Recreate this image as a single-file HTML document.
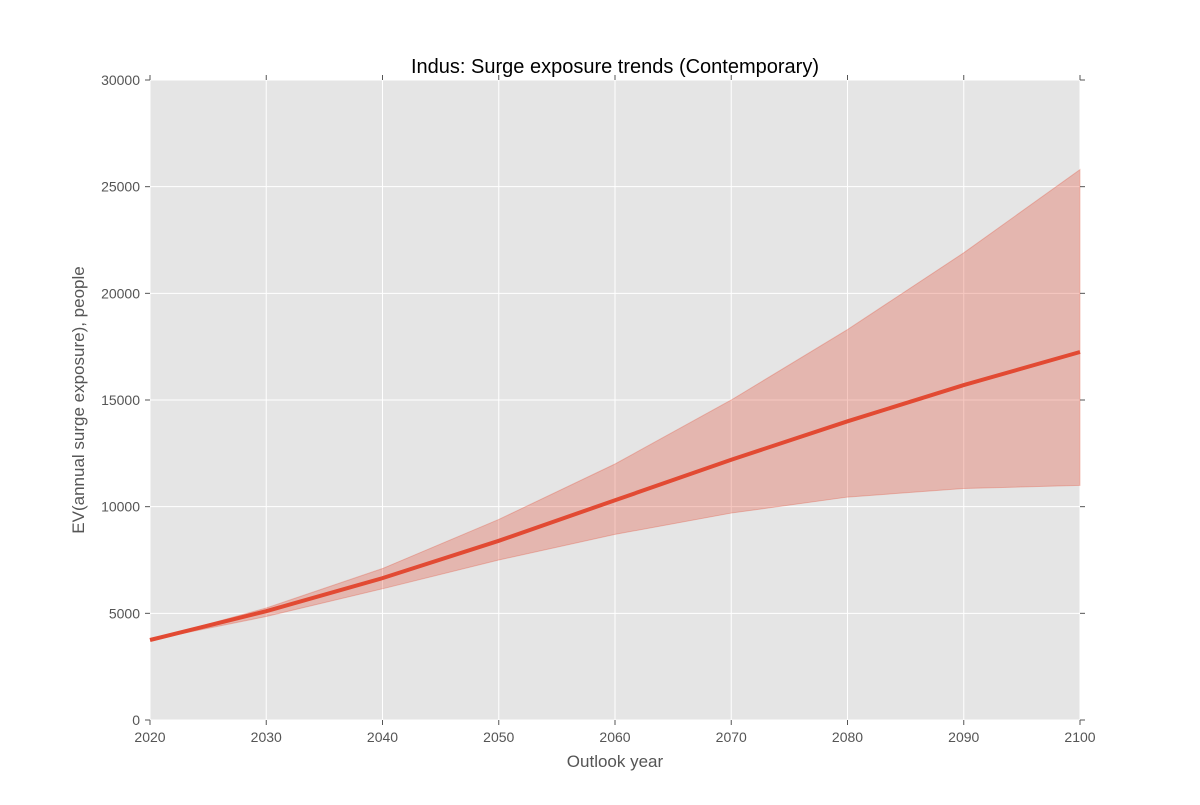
<!DOCTYPE html>
<html><head><meta charset="utf-8"><style>
body{margin:0;background:#fff;font-family:"Liberation Sans","DejaVu Sans",sans-serif}
svg text{font-family:"Liberation Sans","DejaVu Sans",sans-serif}
</style></head><body>
<svg id="chart" width="1200" height="800" xmlns="http://www.w3.org/2000/svg"></svg>
<script>
const years=[2020,2030,2040,2050,2060,2070,2080,2090,2100];
const median=[3750,5100,6650,8400,10300,12200,14000,15700,17250];
const upper=[3750,5250,7100,9400,12000,15000,18300,21900,25800];
const lower=[3750,4850,6150,7500,8700,9700,10450,10850,11000];
const xTicks=[2020,2030,2040,2050,2060,2070,2080,2090,2100];
const yTicks=[0,5000,10000,15000,20000,25000,30000];
const L=150,R=1080,T=80,B=720;
const sx=v=>L+(v-2020)/80*(R-L);
const sy=v=>B-v/30000*(B-T);
const svg=document.getElementById('chart');
const NS='http://www.w3.org/2000/svg';
function mk(tag,attrs,parent){const e=document.createElementNS(NS,tag);for(const k in attrs)e.setAttribute(k,attrs[k]);(parent||svg).appendChild(e);return e;}
const bg=mk('rect',{x:L,y:T,width:R-L,height:B-T,fill:'#e5e5e5'});


xTicks.forEach(t=>{const g=mk('line',{x1:sx(t),x2:sx(t),y1:T,y2:B,stroke:'#fff','stroke-width':1});

});
yTicks.forEach(t=>{const g=mk('line',{x1:L,x2:R,y1:sy(t),y2:sy(t),stroke:'#fff','stroke-width':1});

});
let d='M'+years.map((y,i)=>sx(y)+','+sy(upper[i])).join('L');
for(let i=years.length-1;i>=0;i--)d+='L'+sx(years[i])+','+sy(lower[i]);
const band=mk('path',{d:d+'Z',fill:'#e24a33','fill-opacity':0.3,stroke:'#e24a33','stroke-opacity':0.3});


const line=mk('polyline',{points:years.map((y,i)=>sx(y)+','+sy(median[i])).join(' '),fill:'none',stroke:'#e24a33','stroke-width':4});


xTicks.forEach(t=>{const x=sx(t);
mk('line',{x1:x,x2:x,y1:B,y2:B+5,stroke:'#555'});mk('line',{x1:x,x2:x,y1:T,y2:T-5,stroke:'#555'});
const tx=mk('text',{x:x,y:B+22,'text-anchor':'middle','font-size':14,fill:'#555'});tx.textContent=t;

});
yTicks.forEach(t=>{const y=sy(t);
mk('line',{x1:L,x2:L-5,y1:y,y2:y,stroke:'#555'});mk('line',{x1:R,x2:R+5,y1:y,y2:y,stroke:'#555'});
const tx=mk('text',{x:L-10,y:y+5,'text-anchor':'end','font-size':14,fill:'#555'});tx.textContent=t;

});
const title=mk('text',{x:615,y:73,'text-anchor':'middle','font-size':20,fill:'#000'});title.textContent='Indus: Surge exposure trends (Contemporary)';


const xl=mk('text',{x:615,y:767,'text-anchor':'middle','font-size':17,fill:'#555'});xl.textContent='Outlook year';


const yl=mk('text',{x:84,y:400,'text-anchor':'middle','font-size':17,fill:'#555',transform:'rotate(-90 84 400)'});yl.textContent='EV(annual surge exposure), people';


</script>
</body></html>
